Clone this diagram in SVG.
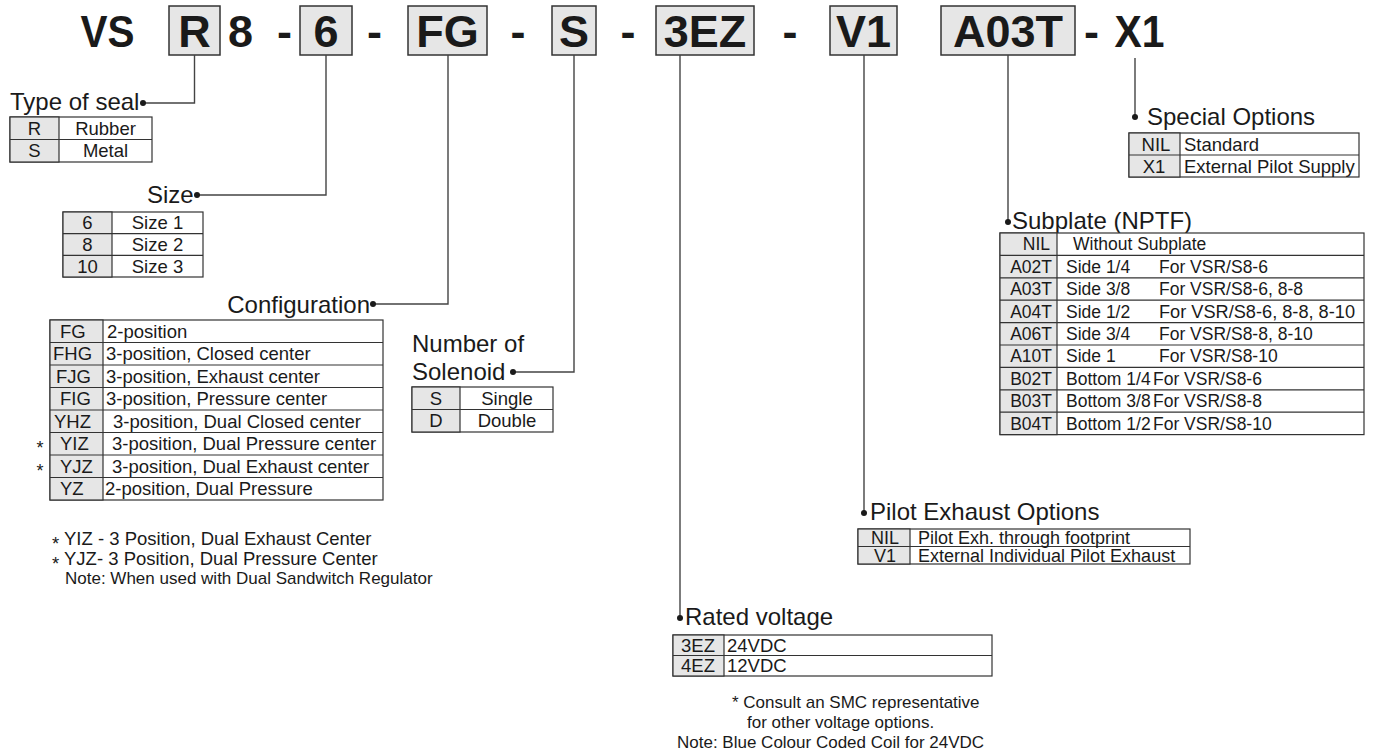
<svg xmlns="http://www.w3.org/2000/svg" width="1375" height="754" viewBox="0 0 1375 754">
<style>
text{font-family:"Liberation Sans",Arial,Helvetica,sans-serif;fill:#1a1a1a}
.t{font-size:45px;font-weight:bold;text-anchor:middle}
.bx{fill:#e6e6e6;stroke:#333;stroke-width:1.5}
.lbl{font-size:24px}
.tb{font-size:18.5px}
.sp{font-size:17.5px}
.nt{font-size:17px}
.c{text-anchor:middle}
.r{text-anchor:end}
.cell{fill:#fff;stroke:#333;stroke-width:1.2}
.code{fill:#e6e6e6;stroke:#333;stroke-width:1.2}
.ln{fill:none;stroke:#333;stroke-width:1.2}
.conn path{fill:none;stroke:#444;stroke-width:1.4}
.conn circle{fill:#1a1a1a}
</style>

<g id="code">
  <rect class="bx" x="169" y="6" width="51" height="49"/>
  <rect class="bx" x="300" y="6" width="52" height="49"/>
  <rect class="bx" x="408" y="6" width="79" height="49"/>
  <rect class="bx" x="552" y="6" width="44" height="49"/>
  <rect class="bx" x="656" y="6" width="98" height="49"/>
  <rect class="bx" x="830" y="6" width="67" height="49"/>
  <rect class="bx" x="941" y="6" width="134" height="49"/>
  <text class="t" x="107.5" y="47" textLength="54" lengthAdjust="spacingAndGlyphs">VS</text>
  <text class="t" x="194.5" y="47">R</text>
  <text class="t" x="240.5" y="47">8</text>
  <text class="t" x="284.5" y="47">-</text>
  <text class="t" x="326" y="47">6</text>
  <text class="t" x="374.5" y="47">-</text>
  <text class="t" x="447.5" y="47">FG</text>
  <text class="t" x="518" y="47">-</text>
  <text class="t" x="574" y="47">S</text>
  <text class="t" x="628" y="47">-</text>
  <text class="t" x="705" y="47">3EZ</text>
  <text class="t" x="790" y="47">-</text>
  <text class="t" x="863.5" y="47">V1</text>
  <text class="t" x="1008" y="47">A03T</text>
  <text class="t" x="1091.5" y="47">-</text>
  <text class="t" x="1139.5" y="47" textLength="50" lengthAdjust="spacingAndGlyphs">X1</text>
</g>

<g class="conn" id="connectors">
  <path d="M194.5 55V103H143"/>
  <circle cx="143" cy="103" r="3"/>
  <path d="M326 55V195H197"/>
  <circle cx="197" cy="195" r="3"/>
  <path d="M448 55V304H373"/>
  <circle cx="373" cy="304" r="3"/>
  <path d="M574 55V372H513"/>
  <circle cx="513" cy="372" r="3"/>
  <path d="M680 55V618"/>
  <circle cx="680" cy="618" r="3"/>
  <path d="M864 55V513"/>
  <circle cx="864" cy="513" r="3"/>
  <path d="M1008 55V222"/>
  <circle cx="1008" cy="222" r="3"/>
  <path d="M1135 58V117"/>
  <circle cx="1135" cy="117" r="3"/>
</g>

<g id="seal">
  <text class="lbl" x="10" y="110">Type of seal</text>
  <rect class="cell" x="10" y="117" width="142" height="45"/>
  <rect class="code" x="10" y="117" width="49" height="45"/>
  <line class="ln" x1="10" y1="139.5" x2="152" y2="139.5"/>
  <text class="tb c" x="34.5" y="134.8">R</text>
  <text class="tb c" x="105.5" y="134.8">Rubber</text>
  <text class="tb c" x="34.5" y="157.3">S</text>
  <text class="tb c" x="105.5" y="157.3">Metal</text>
</g>

<g id="size">
  <text class="lbl" x="147" y="203">Size</text>
  <rect class="cell" x="63" y="212" width="140" height="65"/>
  <rect class="code" x="63" y="212" width="49" height="65"/>
  <line class="ln" x1="63" y1="233.7" x2="203" y2="233.7"/>
  <line class="ln" x1="63" y1="255.3" x2="203" y2="255.3"/>
  <text class="tb c" x="87.5" y="229.4">6</text>
  <text class="tb c" x="157.5" y="229.4">Size 1</text>
  <text class="tb c" x="87.5" y="251">8</text>
  <text class="tb c" x="157.5" y="251">Size 2</text>
  <text class="tb c" x="87.5" y="272.7">10</text>
  <text class="tb c" x="157.5" y="272.7">Size 3</text>
</g>

<g id="configuration">
  <text class="lbl r" x="370" y="313">Configuration</text>
  <rect class="cell" x="50" y="320" width="333" height="180"/>
  <rect class="code" x="50" y="320" width="53" height="180"/>
  <line class="ln" x1="50" y1="342.5" x2="383" y2="342.5"/>
  <line class="ln" x1="50" y1="365" x2="383" y2="365"/>
  <line class="ln" x1="50" y1="387.5" x2="383" y2="387.5"/>
  <line class="ln" x1="50" y1="410" x2="383" y2="410"/>
  <line class="ln" x1="50" y1="432.5" x2="383" y2="432.5"/>
  <line class="ln" x1="50" y1="455" x2="383" y2="455"/>
  <line class="ln" x1="50" y1="477.5" x2="383" y2="477.5"/>
  <text class="tb" x="60" y="337.9">FG</text>
  <text class="tb" x="107" y="337.9">2-position</text>
  <text class="tb" x="53" y="360.4">FHG</text>
  <text class="tb" x="106" y="360.4">3-position, Closed center</text>
  <text class="tb" x="56" y="382.9">FJG</text>
  <text class="tb" x="106" y="382.9">3-position, Exhaust center</text>
  <text class="tb" x="60" y="405.4">FIG</text>
  <text class="tb" x="106" y="405.4">3-position, Pressure center</text>
  <text class="tb" x="54" y="427.9">YHZ</text>
  <text class="tb" x="113" y="427.9">3-position, Dual Closed center</text>
  <text class="tb" x="60" y="450.4">YIZ</text>
  <text class="tb" x="112" y="450.4">3-position, Dual Pressure center</text>
  <text class="tb" x="60" y="472.9">YJZ</text>
  <text class="tb" x="112" y="472.9">3-position, Dual Exhaust center</text>
  <text class="tb" x="60" y="495.4">YZ</text>
  <text class="tb" x="105" y="495.4">2-position, Dual Pressure</text>
  <text class="c" x="40" y="454" style="font-size:18px">*</text>
  <text class="c" x="40" y="476.5" style="font-size:18px">*</text>
  <text class="tb" x="52" y="545"><tspan dy="5">*</tspan><tspan dy="-5"> YIZ - 3 Position, Dual Exhaust Center</tspan></text>
  <text class="tb" x="52" y="565"><tspan dy="5">*</tspan><tspan dy="-5"> YJZ- 3 Position, Dual Pressure Center</tspan></text>
  <text class="nt" x="65" y="584">Note:  When used with Dual Sandwitch Regulator</text>
</g>

<g id="solenoid">
  <text class="lbl" x="412" y="352">Number of</text>
  <text class="lbl" x="412" y="380">Solenoid</text>
  <rect class="cell" x="412" y="387" width="141" height="45"/>
  <rect class="code" x="412" y="387" width="48" height="45"/>
  <line class="ln" x1="412" y1="409.5" x2="553" y2="409.5"/>
  <text class="tb c" x="436" y="404.9">S</text>
  <text class="tb c" x="507" y="404.9">Single</text>
  <text class="tb c" x="436" y="427.4">D</text>
  <text class="tb c" x="507" y="427.4">Double</text>
</g>

<g id="special">
  <text class="lbl" x="1147" y="125">Special Options</text>
  <rect class="cell" x="1129" y="133" width="230" height="44"/>
  <rect class="code" x="1129" y="133" width="51" height="44"/>
  <line class="ln" x1="1129" y1="155" x2="1359" y2="155"/>
  <text class="tb c" x="1156" y="150.6">NIL</text>
  <text class="tb" x="1184" y="150.6">Standard</text>
  <text class="tb c" x="1154" y="172.6">X1</text>
  <text class="tb" x="1184" y="172.6">External Pilot Supply</text>
</g>

<g id="subplate">
  <text class="lbl" x="1012" y="229">Subplate (NPTF)</text>
  <rect class="cell" x="1000" y="233" width="364" height="201.6"/>
  <rect class="code" x="1000" y="233" width="57" height="201.6"/>
  <line class="ln" x1="1000" y1="255.4" x2="1364" y2="255.4"/>
  <line class="ln" x1="1000" y1="277.8" x2="1364" y2="277.8"/>
  <line class="ln" x1="1000" y1="300.2" x2="1364" y2="300.2"/>
  <line class="ln" x1="1000" y1="322.6" x2="1364" y2="322.6"/>
  <line class="ln" x1="1000" y1="345" x2="1364" y2="345"/>
  <line class="ln" x1="1000" y1="367.4" x2="1364" y2="367.4"/>
  <line class="ln" x1="1000" y1="389.8" x2="1364" y2="389.8"/>
  <line class="ln" x1="1000" y1="412.2" x2="1364" y2="412.2"/>
  <text class="sp r" x="1050" y="250.4">NIL</text>
  <text class="sp" x="1073" y="250.4">Without Subplate</text>
  <text class="sp r" x="1052" y="272.8">A02T</text>
  <text class="sp" x="1066" y="272.8">Side 1/4</text>
  <text class="sp" x="1159" y="272.8">For VSR/S8-6</text>
  <text class="sp r" x="1052" y="295.2">A03T</text>
  <text class="sp" x="1066" y="295.2">Side 3/8</text>
  <text class="sp" x="1159" y="295.2">For VSR/S8-6, 8-8</text>
  <text class="sp r" x="1052" y="317.6">A04T</text>
  <text class="sp" x="1066" y="317.6">Side 1/2</text>
  <text class="sp" x="1159" y="317.6" textLength="196" lengthAdjust="spacingAndGlyphs">For VSR/S8-6, 8-8, 8-10</text>
  <text class="sp r" x="1052" y="340">A06T</text>
  <text class="sp" x="1066" y="340">Side 3/4</text>
  <text class="sp" x="1159" y="340">For VSR/S8-8, 8-10</text>
  <text class="sp r" x="1052" y="362.4">A10T</text>
  <text class="sp" x="1066" y="362.4">Side 1</text>
  <text class="sp" x="1159" y="362.4">For VSR/S8-10</text>
  <text class="sp r" x="1052" y="384.8">B02T</text>
  <text class="sp" x="1066" y="384.8">Bottom 1/4</text>
  <text class="sp" x="1153" y="384.8">For VSR/S8-6</text>
  <text class="sp r" x="1052" y="407.2">B03T</text>
  <text class="sp" x="1066" y="407.2">Bottom 3/8</text>
  <text class="sp" x="1153" y="407.2">For VSR/S8-8</text>
  <text class="sp r" x="1052" y="429.6">B04T</text>
  <text class="sp" x="1066" y="429.6">Bottom 1/2</text>
  <text class="sp" x="1153" y="429.6">For VSR/S8-10</text>
</g>

<g id="pilot">
  <text class="lbl" x="870" y="520">Pilot Exhaust Options</text>
  <rect class="cell" x="858" y="529" width="332" height="35"/>
  <rect class="code" x="858" y="529" width="52" height="35"/>
  <line class="ln" x1="858" y1="546.5" x2="1190" y2="546.5"/>
  <text class="tb c" x="885" y="544.2" style="font-size:18px">NIL</text>
  <text class="tb" x="918" y="544.2" style="font-size:18px">Pilot Exh. through footprint</text>
  <text class="tb c" x="885" y="561.7" style="font-size:18px">V1</text>
  <text class="tb" x="918" y="561.7" style="font-size:18px">External Individual Pilot Exhaust</text>
</g>

<g id="voltage">
  <text class="lbl" x="685" y="625">Rated voltage</text>
  <rect class="cell" x="673" y="635" width="319" height="41"/>
  <rect class="code" x="673" y="635" width="51" height="41"/>
  <line class="ln" x1="673" y1="655.5" x2="992" y2="655.5"/>
  <text class="tb c" x="698" y="651.8">3EZ</text>
  <text class="tb" x="727" y="651.8">24VDC</text>
  <text class="tb c" x="698" y="672.3">4EZ</text>
  <text class="tb" x="727" y="672.3">12VDC</text>
  <text class="nt" x="732" y="708">* Consult an SMC representative</text>
  <text class="nt" x="747" y="728">for other voltage options.</text>
  <text class="nt" x="677" y="748">Note:  Blue Colour Coded Coil for 24VDC</text>
</g>
</svg>
